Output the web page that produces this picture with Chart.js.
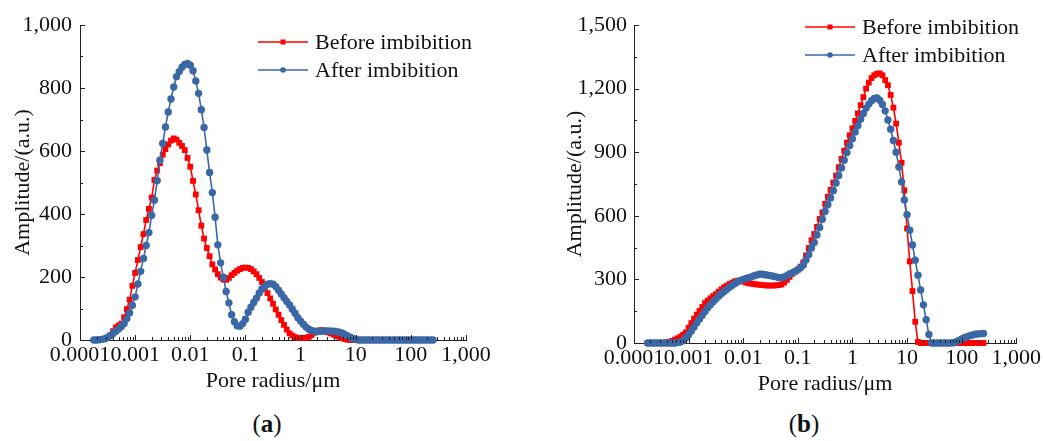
<!DOCTYPE html>
<html>
<head>
<meta charset="utf-8">
<script src="https://cdn.jsdelivr.net/npm/chart.js@4.4.1/dist/chart.umd.min.js"></script>
<style>
  body { margin: 0; background: #fff; width: 1043px; height: 441px; position: relative; overflow: hidden; }
  canvas { position: absolute; top: 0; }
  #chartA { left: 0; }
  #chartB { left: 560px; }
  .tag { position: absolute; top: 409px; width: 60px; text-align: center; font: 25px/30px 'Liberation Serif', serif; color: #111; }
  .tag b { font-weight: bold; }
</style>
</head>
<body>
<canvas id="chartA" width="520" height="400"></canvas>
<canvas id="chartB" width="483" height="400"></canvas>
<div class="tag" style="left:237px">(<b>a</b>)</div>
<div class="tag" style="left:774px">(<b>b</b>)</div>
<script>
// pore radius grid (um), same for both panels
const radius = [
  1.778e-4, 1.995e-4, 2.239e-4, 2.512e-4, 2.818e-4, 3.162e-4, 3.548e-4, 3.981e-4, 4.467e-4, 5.012e-4,
  5.623e-4, 6.310e-4, 7.079e-4, 7.943e-4, 8.913e-4, 1.000e-3, 1.122e-3, 1.259e-3, 1.413e-3, 1.585e-3,
  1.778e-3, 1.995e-3, 2.239e-3, 2.512e-3, 2.818e-3, 3.162e-3, 3.548e-3, 3.981e-3, 4.467e-3, 5.012e-3,
  5.623e-3, 6.310e-3, 7.079e-3, 7.943e-3, 8.913e-3, 1.000e-2, 1.122e-2, 1.259e-2, 1.413e-2, 1.585e-2,
  1.778e-2, 1.995e-2, 2.239e-2, 2.512e-2, 2.818e-2, 3.162e-2, 3.548e-2, 3.981e-2, 4.467e-2, 5.012e-2,
  5.623e-2, 6.310e-2, 7.079e-2, 7.943e-2, 8.913e-2, 1.000e-1, 1.122e-1, 1.259e-1, 1.413e-1, 1.585e-1,
  1.778e-1, 1.995e-1, 2.239e-1, 2.512e-1, 2.818e-1, 3.162e-1, 3.548e-1, 3.981e-1, 4.467e-1, 5.012e-1,
  5.623e-1, 6.310e-1, 7.079e-1, 7.943e-1, 8.913e-1, 1.000, 1.122, 1.259, 1.413, 1.585,
  1.778, 1.995, 2.239, 2.512, 2.818, 3.162, 3.548, 3.981, 4.467, 5.012,
  5.623, 6.310, 7.079, 7.943, 8.913, 10.00, 11.22, 12.59, 14.13, 15.85,
  17.78, 19.95, 22.39, 25.12, 28.18, 31.62, 35.48, 39.81, 44.67, 50.12,
  56.23, 63.10, 70.79, 79.43, 89.13, 100.0, 112.2, 125.9, 141.3, 158.5,
  177.8, 199.5, 223.9, 251.2
];

// (a) amplitudes
const beforeA = [
  null, null, null, null, null, 8, 15, 28, 40, 46,
  52, 72, 98, 128, 172, 213, 254, 295, 336, 381,
  416, 452, 508, 538, 561, 588, 606, 621, 633, 640,
  636, 626, 616, 603, 578, 550, 505, 462, 412, 363,
  322, 292, 266, 240, 224, 209, 198, 192, 191, 197,
  206, 213, 220, 225, 229, 230, 229, 225, 218, 209,
  197, 184, 166, 149, 132, 115, 97, 80, 63, 48,
  33, 21, 14, 9, 7, 6, 6, 7, 10, 16,
  23, 29, 31, 31, 28, 24, 21, 17, 13, 10,
  6, 3, 1, 0, 0, 0, 0, 0, 0, 0,
  0, 0, 0, 0, 0, 0, 0, 0, 0, 0,
  0, 0, 0, 0, 0, 0, 0, 0, 0, 0,
  0, 0, 0, 0
];
const afterA = [
  0, 0, 1, 2, 4, 8, 14, 21, 28, 35,
  43, 52, 68, 86, 110, 137, 178, 218, 259, 300,
  341, 396, 444, 506, 571, 624, 676, 724, 765, 803,
  836, 852, 866, 875, 878, 872, 855, 822, 783, 731,
  675, 603, 532, 468, 390, 302, 245, 199, 154, 118,
  80, 58, 45, 44, 52, 66, 88, 104, 119, 133,
  149, 162, 170, 177, 179, 177, 170, 158, 146, 134,
  122, 111, 98, 85, 71, 60, 50, 41, 34, 30,
  28, 27, 28, 28, 29, 29, 28, 28, 27, 25,
  22, 18, 13, 9, 5, 2, 0, 0, 0, 0,
  0, 0, 0, 0, 0, 0, 0, 0, 0, 0,
  0, 0, 0, 0, 0, 0, 0, 0, 0, 0,
  0, 0, 0, 0
];

// (b) amplitudes
const beforeB = [
  0, 0, 0, 0, 0, 0, 1, 3, 6, 10,
  16, 22, 30, 39, 50, 72, 94, 115, 134, 152,
  170, 188, 200, 211, 221, 230, 242, 253, 263, 270,
  278, 285, 291, 294, 294, 290, 285, 282, 280, 278,
  276, 275, 273, 272, 271, 271, 271, 272, 273, 276,
  285, 298, 312, 326, 336, 347, 360, 380, 413, 448,
  485, 514, 548, 585, 616, 657, 690, 723, 757, 790,
  829, 868, 907, 945, 980, 1013, 1048, 1083, 1122, 1160,
  1200, 1228, 1250, 1263, 1270, 1272, 1263, 1240, 1216, 1170,
  1110, 1035, 945, 850, 720, 540, 385, 245, 100, 5,
  0, 0, 0, 0, 0, 0, 0, 0, 0, 0,
  0, 0, 0, 0, 0, 0, 0, 0, 0, 0,
  0, 0, 0, 0
];
const afterB = [
  0, 0, 0, 0, 0, 0, 0, 0, 0, 0,
  0, 2, 5, 11, 25, 39, 57, 76, 95, 113,
  131, 149, 166, 181, 194, 207, 221, 232, 243, 253,
  263, 272, 281, 289, 295, 300, 305, 308, 312, 317,
  321, 324, 324, 322, 320, 318, 315, 312, 309, 308,
  311, 318, 326, 332, 338, 345, 355, 368, 392, 418,
  448, 474, 510, 545, 584, 620, 652, 684, 718, 755,
  790, 826, 862, 898, 932, 963, 995, 1025, 1055, 1083,
  1108, 1127, 1143, 1153, 1156, 1145, 1125, 1095, 1052, 1008,
  955, 900, 830, 760, 675, 605, 532, 462, 390, 320,
  250, 180, 110, 40, 0, 0, 0, 0, 0, 0,
  0, 0, 1, 6, 12, 19, 25, 30, 35, 38,
  41, 43, 44, 45
];

const xTickValues = [0.0001, 0.001, 0.01, 0.1, 1, 10, 100, 1000];
const xTickLabels = ["0.0001", "0.001", "0.01", "0.1", "1", "10", "100", "1,000"];
const yTicksA = [0, 200, 400, 600, 800, 1000];
const yTicksB = [0, 300, 600, 900, 1200, 1500];
const seriesNames = ["Before imbibition", "After imbibition"];

[beforeA, afterA, beforeB, afterB].forEach(function (a) {
  if (a.length !== radius.length) throw new Error("length " + a.length + " vs " + radius.length);
});

const RED = "#ff0000";
const BLUE = "#3a68a6";
const AXIS = "#222222";
const FONT = "'Liberation Serif', 'Times New Roman', serif";

Chart.defaults.font.family = FONT;
Chart.defaults.color = "#111111";

function toPoints(vals) {
  const pts = [];
  radius.forEach(function (r, i) {
    if (vals[i] !== null) pts.push({ x: r, y: vals[i] });
  });
  return pts;
}

// ticks pointing into the plot, major + minor
const innerTicks = {
  id: "innerTicks",
  afterDraw(chart, args, opts) {
    const ctx = chart.ctx;
    const a = chart.chartArea;
    const xs = chart.scales.x;
    const ys = chart.scales.y;
    ctx.save();
    ctx.strokeStyle = AXIS;
    ctx.lineWidth = 1;
    ctx.beginPath();
    xTickValues.forEach(function (d) {
      for (let m = 1; m <= 9; m++) {
        const v = d * m;
        if (v > 1000 + 1e-9) break;
        const px = Math.round(xs.getPixelForValue(v)) + 0.5;
        const len = m === 1 ? 5 : 3;
        ctx.moveTo(px, a.bottom);
        ctx.lineTo(px, a.bottom - len);
      }
    });
    const yt = opts.yTicks;
    const half = (yt[1] - yt[0]) / 2;
    yt.forEach(function (v, i) {
      const py = Math.round(ys.getPixelForValue(v)) + 0.5;
      ctx.moveTo(a.left, py);
      ctx.lineTo(a.left + 5, py);
      if (i < yt.length - 1) {
        const pm = Math.round(ys.getPixelForValue(v + half)) + 0.5;
        ctx.moveTo(a.left, pm);
        ctx.lineTo(a.left + 3, pm);
      }
    });
    ctx.stroke();
    ctx.restore();
  }
};

// legend drawn inside the plot: short line with marker, then the name
const innerLegend = {
  id: "innerLegend",
  afterDraw(chart, args, opts) {
    const ctx = chart.ctx;
    ctx.save();
    chart.data.datasets.forEach(function (ds, i) {
      const x = opts.x;
      const y = opts.y + i * opts.gap;
      ctx.strokeStyle = ds.borderColor;
      ctx.lineWidth = 1.5;
      ctx.beginPath();
      ctx.moveTo(x, y);
      ctx.lineTo(x + 50, y);
      ctx.stroke();
      ctx.fillStyle = ds.borderColor;
      if (ds.pointStyle === "rect") {
        ctx.fillRect(x + 25 - 2.5, y - 2.5, 5, 5);
      } else {
        ctx.beginPath();
        ctx.arc(x + 25, y, 2.8, 0, Math.PI * 2);
        ctx.fill();
      }
      ctx.fillStyle = "#111111";
      ctx.font = "22px " + FONT;
      ctx.textBaseline = "middle";
      ctx.textAlign = "left";
      ctx.fillText(ds.label, x + 57, y + 1);
    });
    ctx.restore();
  }
};

function makePanel(id, before, after, yTicks, box) {
  const ctx = document.getElementById(id).getContext("2d");
  return new Chart(ctx, {
    type: "line",
    data: {
      datasets: [
        {
          label: seriesNames[0],
          data: toPoints(before),
          borderColor: RED,
          backgroundColor: RED,
          borderWidth: 1.6,
          pointStyle: "rect",
          pointRadius: 4.1,
          pointBorderWidth: 0,
          pointBackgroundColor: RED,
          clip: false,
          order: 2,
        },
        {
          label: seriesNames[1],
          data: toPoints(after),
          borderColor: BLUE,
          backgroundColor: BLUE,
          borderWidth: 1.6,
          pointStyle: "circle",
          pointRadius: 3.7,
          pointBorderWidth: 0,
          pointBackgroundColor: BLUE,
          clip: false,
          order: 1,
        },
      ],
    },
    options: {
      responsive: false,
      animation: false,
      devicePixelRatio: 1,
      layout: { padding: { left: 0, top: box.top, right: box.right, bottom: 0 } },
      plugins: {
        legend: { display: false },
        tooltip: { enabled: false },
        innerTicks: { yTicks: yTicks },
        innerLegend: { x: box.legendX, y: box.legendY, gap: box.legendGap },
      },
      scales: {
        x: {
          type: "logarithmic",
          min: 0.0001,
          max: 1000,
          grid: { display: false, drawTicks: false },
          border: { display: true, color: AXIS, width: 1 },
          afterBuildTicks: function (s) {
            s.ticks = xTickValues.map(function (v) { return { value: v }; });
          },
          afterFit: function (s) { s.height = box.xHeight; },
          ticks: {
            autoSkip: false,
            maxRotation: 0,
            minRotation: 0,
            padding: 2,
            color: "#111111",
            font: { size: 22 },
            callback: function (v, i) { return xTickLabels[i]; },
          },
          title: {
            display: true,
            text: "Pore radius/μm",
            color: "#111111",
            font: { size: 22 },
            padding: { top: 0, bottom: box.xTitlePad },
          },
        },
        y: {
          min: yTicks[0],
          max: yTicks[yTicks.length - 1],
          grid: { display: false, drawTicks: false },
          border: { display: true, color: AXIS, width: 1 },
          afterBuildTicks: function (s) {
            s.ticks = yTicks.map(function (v) { return { value: v }; });
          },
          afterFit: function (s) { s.width = box.yWidth; },
          ticks: {
            padding: box.yTickPad,
            color: "#111111",
            font: { size: 22 },
            callback: function (v) { return v.toLocaleString("en-US"); },
          },
          title: {
            display: true,
            text: "Amplitude/(a.u.)",
            color: "#111111",
            font: { size: 22 },
            padding: { top: box.yTitlePad, bottom: 0 },
          },
        },
      },
    },
    plugins: [innerTicks, innerLegend],
  });
}

makePanel("chartA", beforeA, afterA, yTicksA, {
  top: 25, right: 54, yWidth: 80, xHeight: 60,
  yTickPad: 8, yTitlePad: 10, xTitlePad: 6,
  legendX: 258, legendY: 42, legendGap: 28,
});

makePanel("chartB", beforeB, afterB, yTicksB, {
  top: 25, right: 26, yWidth: 74, xHeight: 57,
  yTickPad: 7, yTitlePad: 2, xTitlePad: 3,
  legendX: 245, legendY: 27, legendGap: 28,
});
</script>
</body>
</html>
